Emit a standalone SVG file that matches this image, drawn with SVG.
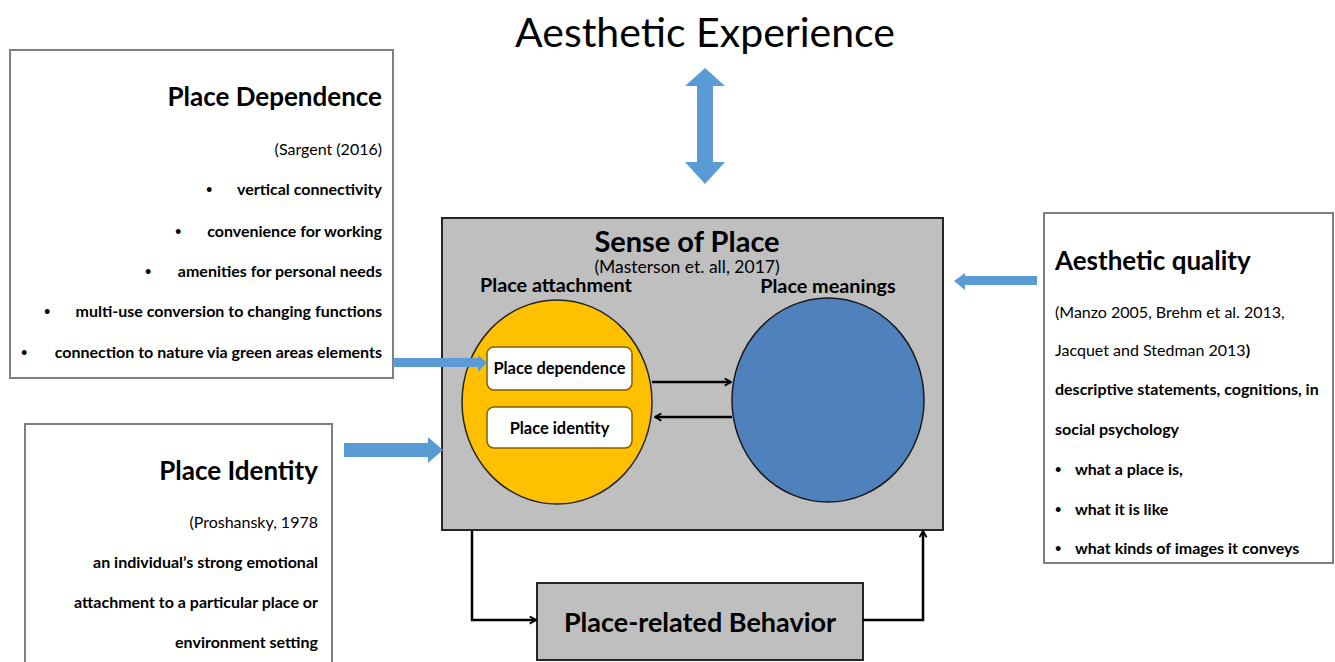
<svg xmlns="http://www.w3.org/2000/svg" width="1335" height="662" viewBox="0 0 1335 662">
<defs>
<style>
text{font-family:Lato,"Open Sans","Liberation Sans",sans-serif;fill:#000}
.b{font-weight:bold}
.t{font-size:16px}
.h{font-size:26px;font-weight:bold}
.d{font-size:11px;font-weight:bold}
.box{fill:#fff;stroke:#7f7f7f;stroke-width:2}
.blk{fill:#5b9bd5}
.ln{fill:none;stroke:#000;stroke-width:2.5}
.r{text-anchor:end}
.m{text-anchor:middle}
</style>
<marker id="ah" viewBox="0 0 10 10" refX="9" refY="5" markerWidth="9" markerHeight="9" orient="auto" markerUnits="userSpaceOnUse">
<path d="M2,1 L9,5 L2,9" fill="none" stroke="#000" stroke-width="2"/>
</marker>
</defs>
<rect width="1335" height="662" fill="#fff"/>

<g id="aesthetic-experience">
<text x="705" y="47" class="m" font-size="41">Aesthetic Experience</text>
</g>

<g id="place-dependence-box">
<rect class="box" x="10" y="50" width="383" height="328"/>
<text x="382" y="106" class="r h">Place Dependence</text>
<text x="382" y="155" class="r t">(Sargent (2016)</text>
<text x="382" y="195" class="r b t">vertical connectivity</text>
<text x="206" y="193" class="d">•</text>
<text x="382" y="237" class="r b t">convenience for working</text>
<text x="175" y="235" class="d">•</text>
<text x="382" y="277" class="r b t">amenities for personal needs</text>
<text x="145" y="275" class="d">•</text>
<text x="382" y="317" class="r b t">multi-use conversion to changing functions</text>
<text x="44" y="315" class="d">•</text>
<text x="382" y="358" class="r b t">connection to nature via green areas elements</text>
<text x="21" y="356" class="d">•</text>
</g>

<g id="place-identity-box">
<rect class="box" x="25" y="424" width="307" height="250"/>
<text x="318" y="480" class="r h">Place Identity</text>
<text x="318" y="528" class="r t">(Proshansky, 1978</text>
<text x="318" y="568" class="r b t">an individual’s strong emotional</text>
<text x="318" y="608" class="r b t">attachment to a particular place or</text>
<text x="318" y="648" class="r b t">environment setting</text>
</g>

<g id="aesthetic-quality-box">
<rect class="box" x="1044" y="213" width="289" height="350"/>
<text x="1055" y="270" class="h">Aesthetic quality</text>
<text x="1055" y="318" class="t">(Manzo 2005,  Brehm et al. 2013,</text>
<text x="1055" y="356" class="t">Jacquet and Stedman  2013<tspan class="b">)</tspan></text>
<text x="1055" y="395" class="b t">descriptive statements, cognitions, in</text>
<text x="1055" y="435" class="b t">social psychology</text>
<text x="1055" y="473" class="d">•</text>
<text x="1075" y="475" class="b t">what a place is,</text>
<text x="1055" y="513" class="d">•</text>
<text x="1075" y="515" class="b t">what it is like</text>
<text x="1055" y="552" class="d">•</text>
<text x="1075" y="554" class="b t">what kinds of images it conveys</text>
</g>

<g id="sense-of-place">
<rect x="442" y="218" width="501" height="312" fill="#bfbfbf" stroke="#262626" stroke-width="2"/>
<text x="687" y="252" class="m b" font-size="29">Sense of Place</text>
<text x="687" y="273" class="m" font-size="17.5">(Masterson et. all, 2017)</text>
<text x="556" y="292" class="m b" font-size="19.8">Place attachment</text>
<text x="828" y="293" class="m b" font-size="19.8">Place meanings</text>
</g>

<g id="place-attachment-circle">
<ellipse cx="557" cy="402" rx="95" ry="102" fill="#ffc000" stroke="#262626" stroke-width="1.5"/>
</g>

<g id="place-dependence-node">
<rect x="487" y="347" width="145" height="43" rx="7" fill="#fff" stroke="#7f6000" stroke-width="1.5"/>
<text x="559.5" y="374" class="m b" font-size="16.4">Place dependence</text>
</g>

<g id="place-identity-node">
<rect x="487" y="407" width="145" height="41" rx="7" fill="#fff" stroke="#7f6000" stroke-width="1.5"/>
<text x="559.5" y="434" class="m b" font-size="16.4">Place identity</text>
</g>

<g id="place-meanings-circle">
<ellipse cx="828" cy="400" rx="96" ry="102" fill="#4f81bd" stroke="#1a1a1a" stroke-width="1.5"/>
</g>

<g id="place-related-behavior">
<rect x="537" y="583" width="326" height="77" fill="#bfbfbf" stroke="#262626" stroke-width="2"/>
<text x="700" y="632" class="m b" font-size="27">Place-related Behavior</text>
</g>

<g id="connectors">
<line class="ln" x1="652" y1="382" x2="731" y2="382" marker-end="url(#ah)"/>
<line class="ln" x1="732" y1="417" x2="655" y2="417" marker-end="url(#ah)"/>
<polyline class="ln" points="472,530 472,620 536,620" marker-end="url(#ah)"/>
<polyline class="ln" points="863,620 923,620 923,531" marker-end="url(#ah)"/>
<polygon class="blk" points="705,68 725,86 713,86 713,162 725,162 705,184 685,162 697,162 697,86 685,86"/>
<polygon class="blk" points="393,358 478,358 478,355 487,362.5 478,372 478,367 393,367"/>
<polygon class="blk" points="344,443 428,443 428,437 443,450 428,463 428,457 344,457"/>
<polygon class="blk" points="1037,276 965,276 965,273 954,281 965,290 965,285 1037,285"/>
</g>
</svg>
